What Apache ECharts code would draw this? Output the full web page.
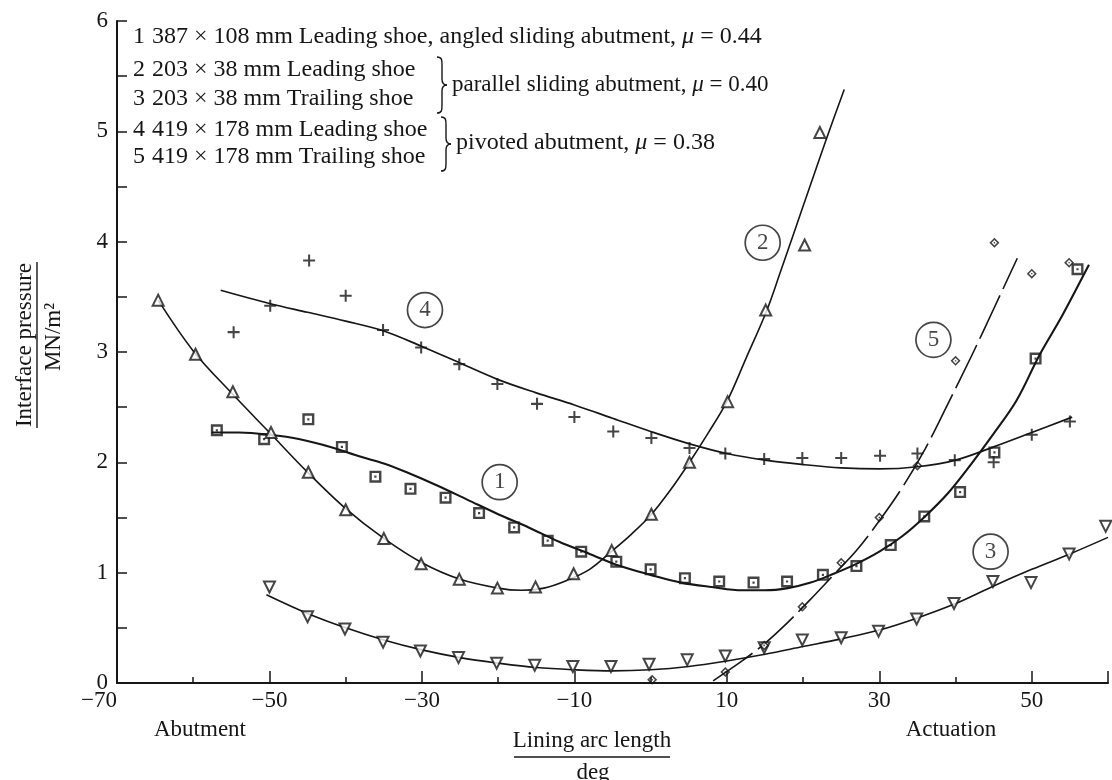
<!DOCTYPE html>
<html>
<head>
<meta charset="utf-8">
<title>Interface pressure along the lining</title>
<script src="https://cdn.jsdelivr.net/npm/echarts@6/dist/echarts.min.js"></script>
<style>
  html, body { margin: 0; background: #fff; }
  #chart { width: 1112px; height: 780px; }
</style>
</head>
<body>
<div id="chart"></div>
<script>
// Measured pressures: [lining arc angle (deg), interface pressure (MN/m²)]
const shoe1Points = [
  [-56.9, 2.29], [-50.7, 2.21], [-44.9, 2.39], [-40.5, 2.14], [-36.1, 1.87], [-31.5, 1.76],
  [-26.9, 1.68], [-22.5, 1.54], [-17.9, 1.41], [-13.5, 1.29], [-9.1, 1.19], [-4.5, 1.10],
  [0.0, 1.03], [4.5, 0.95], [9.0, 0.92], [13.5, 0.91], [17.9, 0.92], [22.6, 0.98],
  [27.0, 1.06], [31.5, 1.25], [35.9, 1.51], [40.6, 1.73], [45.1, 2.09], [50.5, 2.94], [56.0, 3.75]
];
const shoe2Points = [
  [-64.6, 3.47], [-59.7, 2.98], [-54.8, 2.64], [-49.8, 2.27], [-44.9, 1.91], [-40.0, 1.57],
  [-35.0, 1.31], [-30.1, 1.08], [-25.1, 0.94], [-20.1, 0.86], [-15.1, 0.87], [-10.1, 0.99],
  [-5.1, 1.20], [0.1, 1.53], [5.1, 2.00], [10.1, 2.55], [15.1, 3.38], [20.2, 3.97], [22.2, 4.99]
];
const shoe3Points = [
  [-50.0, 0.87], [-45.0, 0.60], [-40.1, 0.49], [-35.1, 0.37], [-30.2, 0.29], [-25.2, 0.23],
  [-20.2, 0.18], [-15.2, 0.16], [-10.2, 0.15], [-5.2, 0.15], [-0.2, 0.17], [4.8, 0.21],
  [9.8, 0.245], [14.9, 0.32], [19.9, 0.39], [25.0, 0.41], [29.9, 0.47], [34.9, 0.58],
  [39.8, 0.72], [44.9, 0.92], [49.9, 0.91], [54.9, 1.17], [59.7, 1.42]
];
const shoe4Points = [
  [-54.7, 3.18], [-49.9, 3.42], [-44.8, 3.83], [-40.0, 3.51], [-35.1, 3.20], [-30.1, 3.04],
  [-25.1, 2.89], [-20.1, 2.71], [-14.9, 2.53], [-10.0, 2.41], [-4.9, 2.28], [0.1, 2.22],
  [5.1, 2.13], [9.8, 2.08], [14.9, 2.03], [19.9, 2.04], [25.0, 2.04], [30.1, 2.06],
  [35.0, 2.08], [39.9, 2.02], [45.0, 2.00], [50.0, 2.25], [55.0, 2.37]
];
const shoe5Points = [
  [0.2, 0.03], [9.8, 0.10], [14.9, 0.34], [19.9, 0.69], [25.0, 1.09], [30.0, 1.50],
  [35.0, 1.97], [40.0, 2.92], [45.1, 3.99], [50.0, 3.71], [54.9, 3.81]
];

// Fitted curves drawn through each set of measurements
const shoe1Curve = [
  [-57.6, 2.27], [-54, 2.27], [-50, 2.25], [-46, 2.21], [-42, 2.14], [-38, 2.05], [-35, 1.99],
  [-32, 1.91], [-28, 1.79], [-24, 1.66], [-20, 1.53], [-16, 1.41], [-12, 1.28], [-8, 1.17],
  [-4, 1.06], [0, 0.98], [4, 0.91], [8, 0.87], [12, 0.84], [15, 0.84], [18, 0.86], [21, 0.91],
  [24, 0.99], [27, 1.08], [30, 1.19], [33, 1.33], [36, 1.51], [39, 1.72], [42, 1.98],
  [45, 2.26], [48, 2.56], [51, 2.97], [54, 3.33], [57.5, 3.79]
];
const shoe2Curve = [
  [-64.6, 3.47], [-60, 3.01], [-55, 2.63], [-50, 2.27], [-45, 1.91], [-40, 1.58], [-35, 1.31],
  [-30, 1.09], [-25, 0.94], [-20, 0.86], [-17, 0.84], [-14, 0.86], [-11, 0.93], [-8, 1.03],
  [-5, 1.20], [-2.5, 1.35], [0, 1.52], [2.5, 1.74], [5, 1.99], [7.5, 2.26], [10, 2.55],
  [12.5, 2.94], [15.2, 3.37], [17, 3.72], [19, 4.12], [21, 4.52], [23, 4.92], [25.4, 5.38]
];
const shoe3Curve = [
  [-50.4, 0.80], [-45, 0.63], [-40, 0.50], [-35, 0.39], [-30, 0.30], [-25, 0.23], [-20, 0.18],
  [-15, 0.14], [-10, 0.12], [-5, 0.11], [0, 0.12], [5, 0.15], [10, 0.20], [15, 0.26],
  [20, 0.33], [25, 0.40], [30, 0.48], [35, 0.59], [40, 0.72], [45, 0.88], [50, 1.03],
  [55, 1.17], [60, 1.32]
];
const shoe4Curve = [
  [-56.4, 3.56], [-50, 3.44], [-45, 3.36], [-40, 3.28], [-35, 3.19], [-30, 3.05], [-25, 2.90],
  [-20, 2.75], [-15, 2.63], [-10, 2.52], [-5, 2.40], [0, 2.28], [5, 2.17], [10, 2.08],
  [15, 2.02], [20, 1.98], [25, 1.95], [30, 1.94], [35, 1.96], [40, 2.02], [45, 2.14],
  [50, 2.27], [55.3, 2.41]
];
const shoe5Curve = [
  [8.2, 0.02], [12, 0.20], [15, 0.36], [18, 0.55], [21, 0.76], [24, 0.98], [27, 1.20],
  [30, 1.47], [33, 1.77], [36, 2.12], [39, 2.53], [42, 2.95], [45, 3.39], [48.1, 3.85]
];

// Circled curve numbers: [angle, pressure, number]
const curveTags = [
  [-29.6, 3.38, '4'], [-19.8, 1.82, '1'], [14.7, 3.99, '2'], [37.1, 3.11, '5'], [44.6, 1.19, '3']
];

// Axis settings
const xMin = -70, xMax = 60, xMajor = 20, xMinor = 10;
const yMin = 0, yMax = 6, yStep = 0.5;

const legendRows = [
  ['1', '387 × 108 mm Leading shoe, angled sliding abutment, ', '0.44'],
  ['2', '203 × 38 mm Leading shoe'],
  ['3', '203 × 38 mm Trailing shoe'],
  ['4', '419 × 178 mm Leading shoe'],
  ['5', '419 × 178 mm Trailing shoe']
];
const groupNotes = [['parallel sliding abutment, ', '0.40'], ['pivoted abutment, ', '0.38']];

const INK = '#161616';
const SERIF = '"Liberation Serif", "DejaVu Serif", serif';
const FS = 23;      // axis text
const LFS = 24;     // key text

// Marker shapes
const squareDot = 'path://M0,0H10V10H0Z M2,2V8H8V2Z M4.1,4.1H5.9V5.9H4.1Z';
const diamondDot = 'path://M5,0L10,5L5,10L0,5Z M5,2.2L2.2,5L5,7.8L7.8,5Z M4.3,4.3H5.7V5.7H4.3Z';
const plusMark = 'path://M4.15,0H5.85V10H4.15Z M0,4.15H10V5.85H0Z';

function curve(data, width, dash) {
  return {
    type: 'line', data, smooth: 0.35, symbol: 'none', silent: true, z: 3,
    lineStyle: { color: INK, width, type: dash || 'solid' }
  };
}
function points(data, symbol, size, extra) {
  return Object.assign({
    type: 'scatter', data, symbol, symbolSize: size, z: 5, silent: true,
    itemStyle: { color: INK }
  }, extra || {});
}
const hollow = { itemStyle: { color: '#fff', borderColor: INK, borderWidth: 2 } };

const chart = echarts.init(document.getElementById('chart'), null, { renderer: 'canvas' });

const minus = v => String(v).replace('-', '\u2212');

const richOf = size => ({
  t: { fontFamily: SERIF, fontSize: size, fill: INK },
  i: { fontFamily: SERIF, fontSize: size, fontStyle: 'italic', fill: INK }
});

function txt(x, y, text, opts) {
  opts = opts || {};
  return {
    type: 'text', x, y, silent: true,
    rotation: opts.rotation || 0,
    style: Object.assign({
      text, fill: INK, font: (opts.size || FS) + 'px ' + SERIF,
      textAlign: 'left', textVerticalAlign: 'middle'
    }, opts.style || {})
  };
}
function seg(x1, y1, x2, y2) {
  return { type: 'line', silent: true, shape: { x1, y1, x2, y2 }, style: { stroke: INK, lineWidth: 1.4 } };
}
function bez(x1, y1, cpx1, cpy1, cpx2, cpy2, x2, y2) {
  return {
    type: 'bezierCurve', silent: true,
    shape: { x1, y1, cpx1, cpy1, cpx2, cpy2, x2, y2 },
    style: { stroke: INK, lineWidth: 1.4, fill: null }
  };
}
// Right-facing curly brace between y0 and y1
function brace(x, y0, y1) {
  const m = (y0 + y1) / 2;
  return [
    bez(x, y0, x + 5, y0, x + 5, y0 + 3, x + 5, y0 + 8),
    seg(x + 5, y0 + 8, x + 5, m - 6),
    bez(x + 5, m - 6, x + 5, m - 2, x + 7, m, x + 10, m),
    bez(x + 10, m, x + 7, m, x + 5, m + 2, x + 5, m + 6),
    seg(x + 5, m + 6, x + 5, y1 - 8),
    bez(x + 5, y1 - 8, x + 5, y1 - 3, x + 5, y1, x, y1)
  ];
}
const muText = (a, b) => `{t|${a}}{i|μ}{t| = ${b}}`;

const rowY = [37, 70, 99, 130, 157];
const graphics = [];
legendRows.forEach((r, i) => {
  graphics.push(txt(133, rowY[i], r[0], { size: LFS }));
  if (r[2]) {
    graphics.push(txt(152, rowY[i], muText(r[1], r[2]), { style: { rich: richOf(LFS) } }));
  } else {
    graphics.push(txt(152, rowY[i], r[1], { size: LFS }));
  }
});
graphics.push(...brace(437, 57, 113));
graphics.push(txt(452, 85, muText(groupNotes[0][0], groupNotes[0][1]), { style: { rich: richOf(23) } }));
graphics.push(...brace(441, 117, 171));
graphics.push(txt(456, 143, muText(groupNotes[1][0], groupNotes[1][1]), { style: { rich: richOf(24) } }));

// Axis titles
graphics.push(txt(25, 345, 'Interface pressure', { rotation: Math.PI / 2, style: { textAlign: 'center' } }));
graphics.push(seg(37, 262, 37, 428));
graphics.push(txt(54, 337, 'MN/m²', { rotation: Math.PI / 2, style: { textAlign: 'center' } }));

graphics.push(txt(592, 741, 'Lining arc length', { style: { textAlign: 'center' } }));
graphics.push(seg(514, 757, 670, 757));
graphics.push(txt(593, 773, 'deg', { style: { textAlign: 'center' } }));
graphics.push(txt(200, 730, 'Abutment', { style: { textAlign: 'center' } }));
graphics.push(txt(951, 730, 'Actuation', { style: { textAlign: 'center' } }));

const option = {
  backgroundColor: '#fff',
  animation: false,
  grid: { left: 117, right: 4, top: 21, bottom: 97, containLabel: false },
  xAxis: [
    {
      type: 'value', min: xMin, max: xMax, interval: xMinor,
      axisLine: { show: true, onZero: false, lineStyle: { color: INK, width: 2 } },
      axisTick: { show: true, inside: true, length: 6, lineStyle: { color: INK, width: 1.5 } },
      axisLabel: { show: false },
      splitLine: { show: false }
    },
    {
      type: 'value', min: xMin, max: xMax, interval: xMajor, position: 'bottom',
      axisLine: { show: false, onZero: false },
      axisTick: { show: true, inside: true, length: 12, lineStyle: { color: INK, width: 1.5 } },
      axisLabel: {
        color: INK, fontFamily: SERIF, fontSize: FS, margin: 6,
        alignMinLabel: 'right',
        formatter: v => (v === xMax ? '' : minus(v))
      },
      splitLine: { show: false }
    }
  ],
  yAxis: {
    type: 'value', min: yMin, max: yMax, interval: yStep,
    axisLine: { show: true, onZero: false, lineStyle: { color: INK, width: 2 } },
    axisTick: { show: true, inside: true, length: 10, lineStyle: { color: INK, width: 1.5 } },
    axisLabel: {
      color: INK, fontFamily: SERIF, fontSize: FS, margin: 9,
      formatter: v => (Number.isInteger(v) ? String(v) : '')
    },
    splitLine: { show: false }
  },
  series: [
    curve(shoe1Curve, 2.1),
    curve(shoe2Curve, 1.6),
    curve(shoe3Curve, 1.6),
    curve(shoe4Curve, 1.7),
    curve(shoe5Curve, 1.6, [48, 7]),
    points(shoe1Points, squareDot, 12),
    points(shoe2Points, 'triangle', 11, hollow),
    points(shoe3Points, 'triangle', 11, Object.assign({ symbolRotate: 180 }, hollow)),
    points(shoe4Points, plusMark, 12),
    points(shoe5Points, diamondDot, 10),
    {
      type: 'scatter', data: curveTags, symbol: 'circle', symbolSize: 35, z: 6, silent: true,
      itemStyle: { color: 'rgba(255,255,255,0)', borderColor: INK, borderWidth: 1.7 },
      label: {
        show: true, position: 'inside', formatter: p => p.data[2],
        color: INK, fontFamily: SERIF, fontSize: FS
      }
    }
  ],
  graphic: graphics
};

chart.setOption(option);
</script>
</body>
</html>
